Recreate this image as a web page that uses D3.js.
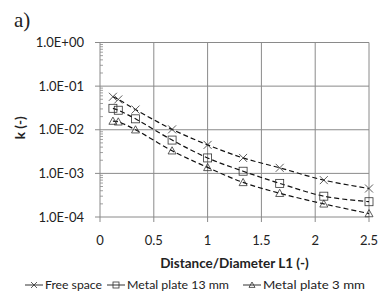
<!DOCTYPE html>
<html>
<head>
<meta charset="utf-8">
<script src="https://cdn.jsdelivr.net/npm/d3@7"></script>
<style>
  body { margin: 0; background: #fff; }
  svg { display: block; }
  text { font-family: Lato, "Liberation Sans", sans-serif; fill: #222; }
</style>
</head>
<body>
<svg id="chart" width="381" height="292"></svg>
<script>
// data
var xValues = [0.12, 0.17, 0.33, 0.67, 1.0, 1.33, 1.67, 2.08, 2.5];
var freeSpace = [0.057, 0.0495, 0.029, 0.0102, 0.0045, 0.00226, 0.00134, 0.0007, 0.00045];
var plate13 = [0.031, 0.028, 0.0178, 0.0058, 0.00226, 0.00112, 0.00059, 0.0003, 0.000224];
var plate3 = [0.0158, 0.0152, 0.0100, 0.0033, 0.00137, 0.00062, 0.00035, 0.0002, 0.00012];
var seriesNames = ['Free space', 'Metal plate 13 mm', 'Metal plate 3 mm'];
var seriesMarkers = ['cross', 'square', 'triangle'];
var xTicks = [0, 0.5, 1, 1.5, 2, 2.5];
var yTicks = [1e-4, 1e-3, 1e-2, 1e-1, 1];
var yTickLabels = ['1.0E-04', '1.0E-03', '1.0E-02', '1.0E-01', '1.0E+00'];

var svg = d3.select('#chart');
var margin = { top: 42.5, right: 12, bottom: 75, left: 100 }
    , width = 381 - margin.left - margin.right
    , height = 292 - margin.top - margin.bottom;

var xScale = d3.scaleLinear().domain([0, 2.5]).range([0, width]);
var yScale = d3.scaleLog().domain([1e-4, 1]).range([height, 0]);

var g = svg.append('g').attr('transform', `translate(${margin.left},${margin.top})`);
var gridColor = '#8a8a8a';

// grid
g.selectAll('.hgrid').data(yTicks).enter().append('line')
    .attr('x1', -5).attr('x2', width)
    .attr('y1', d => yScale(d)).attr('y2', d => yScale(d))
    .attr('stroke', gridColor).attr('stroke-width', 1);
g.selectAll('.vgrid').data(xTicks).enter().append('line')
    .attr('x1', d => xScale(d)).attr('x2', d => xScale(d))
    .attr('y1', 0).attr('y2', height + 5)
    .attr('stroke', gridColor).attr('stroke-width', 1);

// minor ticks on the log axis (inside)
var minor = [];
yTicks.slice(0, -1).forEach(t => { for (let k = 2; k < 10; k++) minor.push(t * k); });
g.selectAll('.minor').data(minor).enter().append('line')
    .attr('x1', 0).attr('x2', 3)
    .attr('y1', d => yScale(d)).attr('y2', d => yScale(d))
    .attr('stroke', gridColor).attr('stroke-width', 0.8);

// tick labels
g.selectAll('.ylab').data(yTicks).enter().append('text')
    .attr('x', -16).attr('y', d => yScale(d)).attr('dy', '0.35em')
    .attr('text-anchor', 'end').style('font-size', '13px')
    .text((d, i) => yTickLabels[i]);
g.selectAll('.xlab').data(xTicks).enter().append('text')
    .attr('x', d => xScale(d)).attr('y', height + 28)
    .attr('text-anchor', 'middle').style('font-size', '13px')
    .text(d => d);

// axis titles
g.append('text')
    .attr('x', width / 2).attr('y', height + 51)
    .attr('text-anchor', 'middle').style('font-size', '13.5px').style('font-weight', 'bold')
    .text('Distance/Diameter L1 (-)');
g.append('text')
    .attr('transform', `translate(${-75},${height / 2 - 2}) rotate(-90)`)
    .attr('text-anchor', 'middle').style('font-size', '13.5px').style('font-weight', 'bold')
    .text('k (-)');
svg.append('text')
    .attr('x', 14).attr('y', 27)
    .style('font-family', '"Liberation Serif", serif').style('font-size', '21px')
    .text('a)');

// series
var data = [freeSpace, plate13, plate3].map(s => s.map((v, i) => ({ x: xValues[i], y: v })));
var line = d3.line()
    .x(d => xScale(d.x))
    .y(d => yScale(d.y))
    .curve(d3.curveCatmullRom.alpha(0.5));

function marker(sel, type, size) {
    var h = size / 2;
    if (type === 'cross') {
        sel.append('path').attr('d', `M${-h},${-h}L${h},${h}M${-h},${h}L${h},${-h}`);
    } else if (type === 'square') {
        sel.append('rect').attr('x', -h).attr('y', -h).attr('width', size).attr('height', size);
    } else {
        sel.append('path').attr('d', `M0,${-h}L${h},${h * 0.8}L${-h},${h * 0.8}Z`);
    }
}

data.forEach((s, i) => {
    g.append('path')
        .datum(s)
        .attr('d', line)
        .attr('fill', 'none')
        .attr('stroke', '#111')
        .attr('stroke-width', 1.2)
        .attr('stroke-dasharray', '5,3');
    s.forEach(d => {
        var m = g.append('g')
            .attr('transform', `translate(${xScale(d.x)},${yScale(d.y)})`)
            .attr('fill', 'none').attr('stroke', '#333').attr('stroke-width', 0.8);
        marker(m, seriesMarkers[i], 8);
    });
});

// legend
var legendX = [25, 107, 243];
var legendW = [57, 102, 102];
var legend = svg.append('g').attr('transform', 'translate(0,285)');
seriesNames.forEach((name, i) => {
    var e = legend.append('g').attr('transform', `translate(${legendX[i]},0)`);
    e.append('line').attr('x1', 0).attr('x2', 18).attr('y1', 0).attr('y2', 0)
        .attr('stroke', '#333').attr('stroke-width', 1);
    var m = e.append('g').attr('transform', 'translate(9,0)')
        .attr('fill', 'none').attr('stroke', '#333').attr('stroke-width', 0.8);
    marker(m, seriesMarkers[i], 6);
    e.append('text').attr('x', 20).attr('y', 0).attr('dy', '0.35em')
        .style('font-size', '12px')
        .attr('textLength', legendW[i]).attr('lengthAdjust', 'spacingAndGlyphs')
        .text(name);
});
</script>
</body>
</html>
